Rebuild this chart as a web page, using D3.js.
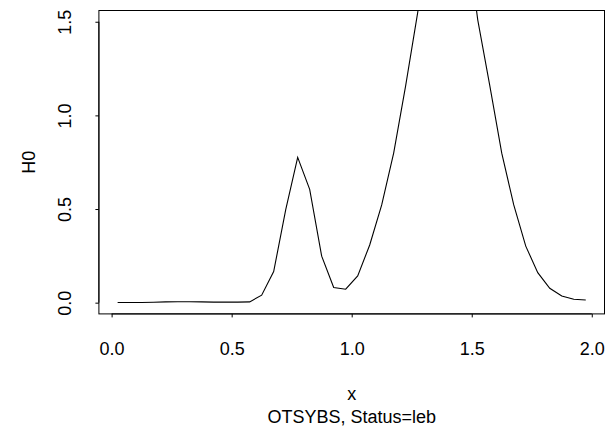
<!DOCTYPE html>
<html><head><meta charset="utf-8">
<script src="https://cdn.jsdelivr.net/npm/d3@7"></script>
<style>
html,body{margin:0;padding:0;background:#fff;}
text{font-family:"Liberation Sans",Arial,sans-serif;fill:#000;}
</style></head>
<body>
<svg id="chart" width="608" height="432"></svg>
<script>
const xValues = [0.025,0.075,0.125,0.175,0.225,0.275,0.325,0.375,0.425,0.475,
                 0.525,0.575,0.625,0.675,0.725,0.775,0.825,0.875,0.925,0.975,
                 1.025,1.075,1.125,1.175,1.225,1.275,1.325,1.375,1.425,1.475,
                 1.525,1.575,1.625,1.675,1.725,1.775,1.825,1.875,1.925,1.975];
const h0Values = [0.001,0.001,0.001,0.002,0.004,0.005,0.005,0.004,0.003,0.003,
                  0.003,0.004,0.040,0.166,0.495,0.776,0.605,0.248,0.081,0.072,
                  0.143,0.308,0.522,0.800,1.160,1.550,2.000,2.400,2.400,2.000,
                  1.510,1.160,0.798,0.522,0.302,0.160,0.077,0.036,0.018,0.014];
const xTicks = [0, 0.5, 1.0, 1.5, 2.0];
const yTicks = [0, 0.5, 1.0, 1.5];
const xDomain = [-0.053, 2.053];
const yDomain = [-0.06, 1.56];
const xLabel = "x";
const yLabel = "H0";
const subTitle = "OTSYBS, Status=leb";

(function(){
const pL = 98.9, pR = 604.5, pT = 10.5, pB = 313.9;
const fs = 18;
const svg = d3.select("#chart");
const x = d3.scaleLinear().domain(xDomain).range([pL, pR]);
const y = d3.scaleLinear().domain(yDomain).range([pB, pT]);

svg.append("defs").append("clipPath").attr("id","clip")
  .append("rect").attr("x",pL).attr("y",pT).attr("width",pR-pL).attr("height",pB-pT);

const data = xValues.map((v,i)=>({x:v,y:h0Values[i]}));
svg.append("path").datum(data)
  .attr("clip-path","url(#clip)")
  .attr("fill","none").attr("stroke","#000").attr("stroke-width",1.1)
  .attr("d", d3.line().x(d=>x(d.x)).y(d=>y(d.y)));

svg.append("rect").attr("x",pL).attr("y",pT).attr("width",pR-pL).attr("height",pB-pT)
  .attr("fill","none").attr("stroke","#000").attr("stroke-width",1);

const gx = svg.append("g").attr("transform",`translate(0,${pB})`)
  .call(d3.axisBottom(x).tickValues(xTicks).tickFormat(d3.format(".1f")).tickSize(3.5).tickSizeOuter(0));
gx.select(".domain").remove();
gx.selectAll("line").attr("stroke","#000");
gx.selectAll("text").attr("font-size",fs).attr("dy",null).attr("y",41);
gx.append("line").attr("x1",x(xTicks[0])).attr("x2",x(xTicks[xTicks.length-1])).attr("stroke","#000");
gx.attr("font-family",null);

const gy = svg.append("g").attr("transform",`translate(${pL},0)`)
  .call(d3.axisLeft(y).tickValues(yTicks).tickFormat(d3.format(".1f")).tickSize(3.5).tickSizeOuter(0));
gy.select(".domain").remove();
gy.selectAll("line").attr("stroke","#000");
gy.selectAll("text").attr("font-size",fs)
  .attr("x",null).attr("dy",null).attr("text-anchor","middle")
  .attr("transform","translate(-28,0) rotate(-90)");
gy.append("line").attr("y1",y(yTicks[0])).attr("y2",y(yTicks[yTicks.length-1])).attr("stroke","#000");
gy.attr("font-family",null);

svg.append("text").attr("x",(pL+pR)/2).attr("y",400).attr("text-anchor","middle").attr("font-size",fs).text(xLabel);
svg.append("text").attr("x",(pL+pR)/2).attr("y",423).attr("text-anchor","middle").attr("font-size",fs).text(subTitle);
svg.append("text").attr("transform",`translate(34.5,${(pT+pB)/2}) rotate(-90)`)
  .attr("text-anchor","middle").attr("font-size",fs).text(yLabel);
})();
</script>
</body></html>
